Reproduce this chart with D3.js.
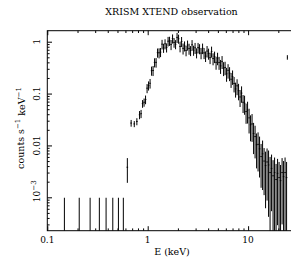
<!DOCTYPE html>
<html>
<head>
<meta charset="utf-8">
<script src="https://cdn.jsdelivr.net/npm/d3@7"></script>
<style>
body { margin: 0; background: #fff; }
text { font-family: "DejaVu Serif", serif; fill: #000; }
</style>
</head>
<body>
<div id="chart"></div>
<script>
var width = 291,
    height = 266,
    plotL = 47.3,
    plotR = 296,
    plotT = 30.7,
    plotB = 230.7;

// low energy bins (zero-count bins and the first few detections)
var lowE = [0.148, 0.208, 0.267, 0.330, 0.385, 0.449, 0.511, 0.572, 0.627, 0.684, 0.735, 0.780];
var lowRate = [0, 0, 0, 0, 0, 0, 0, 0, 0.0038, 0.027, 0.026, 0.029];
var lowErr = [0.00098, 0.00098, 0.00098, 0.00098, 0.00098, 0.00098, 0.00098, 0.00098, 0.0019, 0.004, 0.0035, 0.0045];

// main spectrum
var bandE = [0.830, 0.859, 0.889, 0.920, 0.952, 0.986, 1.020, 1.056, 1.093, 1.131,
    1.171, 1.212, 1.254, 1.298, 1.343, 1.390, 1.439, 1.489, 1.542, 1.596,
    1.651, 1.709, 1.769, 1.831, 1.895, 1.961, 2.030, 2.101, 2.175, 2.251,
    2.329, 2.411, 2.495, 2.583, 2.673, 2.767, 2.863, 2.964, 3.067, 3.175,
    3.286, 3.401, 3.520, 3.643, 3.771, 3.903, 4.039, 4.181, 4.327, 4.478,
    4.635, 4.797, 4.965, 5.139, 5.319, 5.505, 5.698, 5.897, 6.104, 6.317,
    6.538, 6.767, 7.004, 7.249, 7.503, 7.766, 8.037, 8.319, 8.610, 8.911,
    9.223, 9.546, 9.880, 10.23, 10.58, 10.95, 11.34, 11.74, 12.15, 12.57,
    13.01, 13.47, 13.94, 14.43, 14.93, 15.45, 15.99, 16.55, 17.13, 17.73,
    18.35, 19.00, 19.66, 20.35, 21.06, 21.80, 22.56, 23.35, 24.17];
var bandRate = [0.039, 0.041, 0.064, 0.068, 0.077, 0.127, 0.143, 0.158, 0.276, 0.279,
    0.399, 0.400, 0.616, 0.611, 0.630, 0.897, 0.761, 0.912, 0.774, 1.023,
    1.037, 0.882, 1.15, 0.969, 0.893, 1.21, 1.14, 0.81, 1.01, 0.744,
    0.83, 0.679, 0.862, 0.737, 0.675, 0.873, 0.686, 0.763, 0.611, 0.77,
    0.734, 0.603, 0.748, 0.608, 0.527, 0.66, 0.592, 0.493, 0.648, 0.474,
    0.515, 0.40, 0.482, 0.398, 0.342, 0.413, 0.31, 0.318, 0.241, 0.281,
    0.248, 0.189, 0.213, 0.157, 0.123, 0.141, 0.114, 0.086, 0.102, 0.068,
    0.065, 0.045, 0.048, 0.034, 0.025, 0.026, 0.017, 0.0148, 0.0103, 0.0105,
    0.0086, 0.0061, 0.0069, 0.0050, 0.0041, 0.0048, 0.0042, 0.0030, 0.0036, 0.0026,
    0.0030, 0.0022, 0.0029, 0.0024, 0.0021, 0.0030, 0.0025, 0.0030, 0.0024];
var bandRelErr = [0.18, 0.18, 0.17, 0.18, 0.19, 0.2, 0.2, 0.21, 0.2, 0.22,
    0.2, 0.21, 0.2, 0.22, 0.2, 0.21, 0.2, 0.22, 0.2, 0.21,
    0.2, 0.22, 0.2, 0.21, 0.2, 0.22, 0.2, 0.23, 0.22, 0.24,
    0.22, 0.23, 0.22, 0.24, 0.22, 0.23, 0.22, 0.24, 0.22, 0.23,
    0.22, 0.24, 0.23, 0.24, 0.23, 0.25, 0.24, 0.25, 0.24, 0.26,
    0.25, 0.28, 0.27, 0.28, 0.3, 0.28, 0.3, 0.29, 0.3, 0.31,
    0.3, 0.32, 0.31, 0.33, 0.32, 0.34, 0.35, 0.36, 0.35, 0.38,
    0.4, 0.42, 0.45, 0.5, 0.52, 0.55, 0.6, 0.62, 0.65, 0.7,
    0.72, 0.75, 0.8, 0.78, 0.85, 0.82, 0.9, 1.0, 0.85, 1.0,
    0.95, 1.0, 0.9, 1.0, 1.0, 0.9, 1.0, 0.95, 1.0];

// single high bin near the top of the band
var spikeE = [24.6];
var spikeRate = [0.50];
var spikeErr = [0.05];

var xMajor = [0.1, 1, 10];
var yMajor = [1, 0.1, 0.01, 0.001];
var yLabels = ["1", "0.1", "0.01", "10^-3"];

var svg = d3.select("#chart").append("svg")
    .attr("width", width)
    .attr("height", height);

var x = d3.scaleLog().domain([0.1, 30]).range([plotL, plotR]);
var y = d3.scaleLog().domain([2.27e-4, 1.63]).range([plotB, plotT]);

svg.append("clipPath").attr("id", "clip")
    .append("rect")
    .attr("x", plotL).attr("y", plotT)
    .attr("width", plotR - plotL).attr("height", plotB - plotT);

// assemble points
var pts = [];
lowE.forEach(function (e, i) {
    pts.push({e: e, lo: e / 1.018, hi: e * 1.018, v: lowRate[i], err: lowErr[i]});
});
bandE.forEach(function (e, i) {
    var prev = i > 0 ? bandE[i - 1] : e / 1.035,
        next = i < bandE.length - 1 ? bandE[i + 1] : e * 1.035;
    pts.push({e: e, lo: Math.sqrt(prev * e), hi: Math.sqrt(e * next),
        v: bandRate[i], err: bandRate[i] * bandRelErr[i]});
});
spikeE.forEach(function (e, i) {
    pts.push({e: e, lo: e / 1.006, hi: e * 1.006, v: spikeRate[i], err: spikeErr[i]});
});

var ymin = y.domain()[0];
var g = svg.append("g").attr("clip-path", "url(#clip)");

// vertical error bars
g.selectAll(".ev")
    .data(pts)
    .enter().append("line")
    .attr("x1", d => x(d.e))
    .attr("x2", d => x(d.e))
    .attr("y1", d => d.v - d.err > ymin ? y(d.v - d.err) : plotB + 2)
    .attr("y2", d => y(d.v + d.err))
    .attr("stroke", "#000")
    .attr("stroke-width", 1);

// horizontal bin bars
g.selectAll(".eh")
    .data(pts.filter(d => d.v > ymin))
    .enter().append("line")
    .attr("x1", d => x(d.lo))
    .attr("x2", d => x(d.hi))
    .attr("y1", d => y(d.v))
    .attr("y2", d => y(d.v))
    .attr("stroke", "#000")
    .attr("stroke-width", 1);

// axes
var minorX = [];
[0.1, 1, 10].forEach(function (d) {
    for (var k = 2; k <= 9; k++) if (d * k < 30) minorX.push(d * k);
});
var minorY = [];
[0.0001, 0.001, 0.01, 0.1, 1].forEach(function (d) {
    for (var k = 2; k <= 9; k++) if (d * k > ymin && d * k < 1.63) minorY.push(d * k);
});

function tickAxis(axis, vals, size, tr) {
    svg.append("g")
        .attr("transform", tr)
        .call(axis.tickValues(vals).tickSize(size).tickFormat(""))
        .call(s => s.select(".domain").remove())
        .selectAll("line").attr("stroke", "#000");
}
tickAxis(d3.axisBottom(x), xMajor, -4.5, "translate(0," + plotB + ")");
tickAxis(d3.axisBottom(x), minorX, -2.3, "translate(0," + plotB + ")");
tickAxis(d3.axisTop(x), xMajor, -4.5, "translate(0," + plotT + ")");
tickAxis(d3.axisTop(x), minorX, -2.3, "translate(0," + plotT + ")");
tickAxis(d3.axisLeft(y), yMajor, -4.7, "translate(" + plotL + ",0)");
tickAxis(d3.axisLeft(y), minorY, -2.3, "translate(" + plotL + ",0)");
tickAxis(d3.axisRight(y), yMajor, -4.7, "translate(" + plotR + ",0)");
tickAxis(d3.axisRight(y), minorY, -2.3, "translate(" + plotR + ",0)");

svg.append("rect")
    .attr("x", plotL).attr("y", plotT)
    .attr("width", plotR - plotL).attr("height", plotB - plotT)
    .attr("fill", "none")
    .attr("stroke", "#000")
    .attr("stroke-width", 1);

// x tick labels
svg.selectAll(".xl")
    .data(xMajor)
    .enter().append("text")
    .attr("x", d => x(d))
    .attr("y", 242.5)
    .attr("text-anchor", "middle")
    .style("font-size", "9px")
    .text(d => d3.format("")(d));

// y tick labels, rotated
yMajor.forEach(function (v, i) {
    var lab = yLabels[i];
    var sup = lab.indexOf("^") >= 0;
    var t = svg.append("text")
        .attr("transform", "translate(39.5," + (y(v) - (sup ? 6 : 0)) + ") rotate(-90)")
        .attr("text-anchor", "middle")
        .style("font-size", "9px");
    if (sup) {
        var parts = lab.split("^");
        t.append("tspan").text(parts[0]);
        t.append("tspan").attr("dy", "-0.45em").style("font-size", "7px").text(parts[1].replace("-", "\u2212"));
    } else {
        t.text(lab);
    }
});

// title
svg.append("text")
    .attr("x", 171.5)
    .attr("y", 15)
    .attr("text-anchor", "middle")
    .style("font-size", "9.5px")
    .text("XRISM XTEND observation");

// x label
svg.append("text")
    .attr("x", 172)
    .attr("y", 255)
    .attr("text-anchor", "middle")
    .style("font-size", "9.5px")
    .text("E (keV)");

// y label
var yl = svg.append("text")
    .attr("transform", "translate(23.5,128) rotate(-90)")
    .attr("text-anchor", "middle")
    .style("font-size", "9.5px");
yl.append("tspan").text("counts s");
yl.append("tspan").attr("dy", "-0.45em").style("font-size", "7px").text("\u22121");
yl.append("tspan").attr("dy", "0.45em").text(" keV");
yl.append("tspan").attr("dy", "-0.45em").style("font-size", "7px").text("\u22121");
</script>
</body>
</html>
